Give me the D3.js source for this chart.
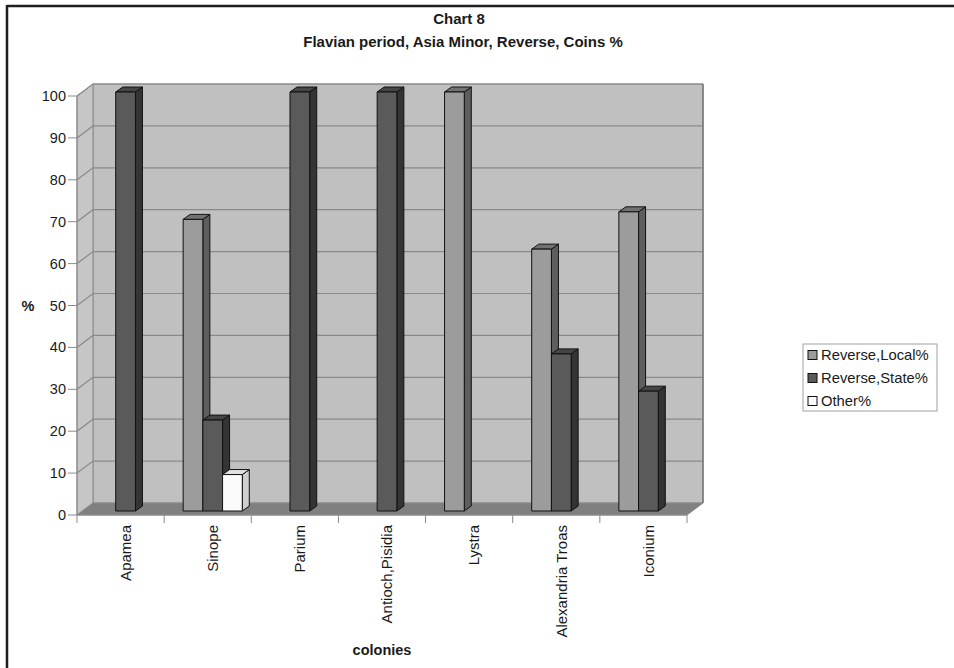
<!DOCTYPE html>
<html>
<head>
<meta charset="utf-8">
<script src="https://cdn.jsdelivr.net/npm/d3@7"></script>
<style>
  html, body { margin: 0; padding: 0; background: #fff; }
  svg { display: block; font-family: "Liberation Sans", Arial, sans-serif; }
</style>
</head>
<body>
<svg id="chart" width="954" height="668"></svg>
<script>
// Colonies along the category axis
const categories = ["Apamea", "Sinope", "Parium", "Antioch,Pisidia", "Lystra", "Alexandria Troas", "Iconium"];
// Series names (legend order)
const seriesNames = ["Reverse,Local%", "Reverse,State%", "Other%"];
// Percentages per colony, one array per series
const localValues = [0, 69.6, 0, 0, 100, 62.5, 71.4];
const stateValues = [100, 21.7, 100, 100, 0, 37.5, 28.6];
const otherValues = [0, 8.7, 0, 0, 0, 0, 0];
// Value axis ticks
const yTicks = [0, 10, 20, 30, 40, 50, 60, 70, 80, 90, 100];

const seriesValues = [localValues, stateValues, otherValues];
// Face shades for each series: front, side, top
const shades = [
  { front: "#9c9c9c", side: "#5e5e5e", top: "#727272" },
  { front: "#5a5a5a", side: "#343434", top: "#454545" },
  { front: "#fbfbfb", side: "#cfcfcf", top: "#e2e2e2" }
];

const svg = d3.select("#chart");

// Front plane of the 3-D box
const left = 77, right = 687, base = 515, topY = 96;
// Depth of the box (back wall offset)
const ddx = 16, ddy = -12;
// Bars sit a little behind the front plane and have their own depth
const bx = 5, by = -4, bdx = 7, bdy = -5;

const y = d3.scaleLinear().domain([0, 100]).range([base, topY]);
const x = d3.scaleBand().domain(categories).range([left, right]).paddingInner(0).paddingOuter(0);
const xs = d3.scaleBand().domain(d3.range(seriesNames.length)).range([0, x.bandwidth()]).paddingInner(0).paddingOuter(0.71);

// Border lines at the top and left edges of the figure
svg.append("line").attr("x1", 7).attr("x2", 954).attr("y1", 6).attr("y2", 6).attr("stroke", "#1e1e1e").attr("stroke-width", 2.5);
svg.append("line").attr("x1", 7).attr("x2", 7).attr("y1", 5).attr("y2", 668).attr("stroke", "#1e1e1e").attr("stroke-width", 2.5);

// Titles
svg.append("text").attr("x", 459).attr("y", 24).attr("text-anchor", "middle")
  .attr("font-weight", "bold").attr("font-size", 15).attr("fill", "#1a1a1a").text("Chart 8");
svg.append("text").attr("x", 463).attr("y", 47).attr("text-anchor", "middle")
  .attr("font-weight", "bold").attr("font-size", 15).attr("fill", "#1a1a1a").text("Flavian period, Asia Minor, Reverse, Coins %");

const walls = svg.append("g");
const pts = a => a.map(p => p.join(",")).join(" ");

// Back wall
walls.append("polygon")
  .attr("points", pts([[left + ddx, y(0) + ddy], [right + ddx, y(0) + ddy], [right + ddx, y(100) + ddy], [left + ddx, y(100) + ddy]]))
  .attr("fill", "#c0c0c0").attr("stroke", "#8a8a8a").attr("stroke-width", 1);
// Side wall
walls.append("polygon")
  .attr("points", pts([[left, y(0)], [left + ddx, y(0) + ddy], [left + ddx, y(100) + ddy], [left, y(100)]]))
  .attr("fill", "#c6c6c6").attr("stroke", "#8a8a8a").attr("stroke-width", 1);

// Gridlines on both walls
const grid = walls.append("g").attr("stroke", "#8a8a8a").attr("stroke-width", 1.2).attr("fill", "none");
yTicks.filter(v => v > 0).forEach(v => {
  grid.append("polyline")
    .attr("points", pts([[left, y(v)], [left + ddx, y(v) + ddy], [right + ddx, y(v) + ddy]]));
});

// Floor
walls.append("polygon")
  .attr("points", pts([[left, y(0)], [left + ddx, y(0) + ddy], [right + ddx, y(0) + ddy], [right, y(0)]]))
  .attr("fill", "#808080").attr("stroke", "#8a8a8a").attr("stroke-width", 1);
// Back wall right edge
walls.append("line").attr("x1", right + ddx).attr("x2", right + ddx)
  .attr("y1", y(100) + ddy).attr("y2", y(0) + ddy).attr("stroke", "#7a7a7a").attr("stroke-width", 1.5);

// Value axis
const yAxisG = svg.append("g");
yAxisG.append("line").attr("x1", left).attr("x2", left).attr("y1", y(0)).attr("y2", y(100)).attr("stroke", "#8a8a8a");
yTicks.forEach(v => {
  yAxisG.append("line").attr("x1", left - 9).attr("x2", left).attr("y1", y(v)).attr("y2", y(v)).attr("stroke", "#8a8a8a");
  yAxisG.append("text").attr("x", left - 11).attr("y", y(v)).attr("dy", "0.35em")
    .attr("text-anchor", "end").attr("font-size", 14.5).attr("fill", "#1a1a1a").text(v);
});
svg.append("text").attr("x", 28).attr("y", y(50)).attr("dy", "0.35em").attr("text-anchor", "middle")
  .attr("font-weight", "bold").attr("font-size", 14.5).attr("fill", "#1a1a1a").text("%");

// Category axis
const xAxisG = svg.append("g");
xAxisG.append("line").attr("x1", left).attr("x2", right).attr("y1", base).attr("y2", base).attr("stroke", "#8a8a8a");
const boundaries = categories.map(c => x(c)).concat([right]);
boundaries.forEach(bx0 => {
  xAxisG.append("line").attr("x1", bx0).attr("x2", bx0).attr("y1", base).attr("y2", base + 8).attr("stroke", "#8a8a8a");
});
categories.forEach(c => {
  const cx = x(c) + x.bandwidth() / 2 + 5;
  xAxisG.append("text")
    .attr("transform", `translate(${cx},${base + 10}) rotate(-90)`)
    .attr("text-anchor", "end").attr("dy", "0.35em")
    .attr("font-size", 15).attr("fill", "#1a1a1a").text(c);
});
svg.append("text").attr("x", (left + right) / 2).attr("y", 655).attr("text-anchor", "middle")
  .attr("font-weight", "bold").attr("font-size", 14.5).attr("fill", "#1a1a1a").text("colonies");

// Bars, drawn left to right so each one covers its neighbour's side face
const bars = svg.append("g").attr("stroke", "#111").attr("stroke-width", 1).attr("stroke-linejoin", "round");
categories.forEach((c, ci) => {
  seriesValues.forEach((vals, si) => {
    const v = vals[ci];
    if (!v) return;
    const x0 = x(c) + xs(si) + bx, x1 = x0 + xs.bandwidth();
    const yb = y(0) + by, yt = y(v) + by;
    const s = shades[si];
    const g = bars.append("g");
    g.append("polygon").attr("points", pts([[x1, yb], [x1 + bdx, yb + bdy], [x1 + bdx, yt + bdy], [x1, yt]])).attr("fill", s.side);
    g.append("polygon").attr("points", pts([[x0, yt], [x1, yt], [x1 + bdx, yt + bdy], [x0 + bdx, yt + bdy]])).attr("fill", s.top);
    g.append("rect").attr("x", x0).attr("y", yt).attr("width", x1 - x0).attr("height", yb - yt).attr("fill", s.front);
  });
});

// Legend
const lg = svg.append("g");
lg.append("rect").attr("x", 803).attr("y", 344).attr("width", 134).attr("height", 67)
  .attr("fill", "#fff").attr("stroke", "#a0a0a0").attr("stroke-width", 1);
seriesNames.forEach((name, i) => {
  const cy = 355 + i * 23;
  lg.append("rect").attr("x", 808).attr("y", cy - 4.5).attr("width", 9).attr("height", 9)
    .attr("fill", shades[i].front).attr("stroke", "#111").attr("stroke-width", 1);
  lg.append("text").attr("x", 821).attr("y", cy).attr("dy", "0.36em")
    .attr("font-size", 14.8).attr("fill", "#1a1a1a").text(name);
});
</script>
</body>
</html>
